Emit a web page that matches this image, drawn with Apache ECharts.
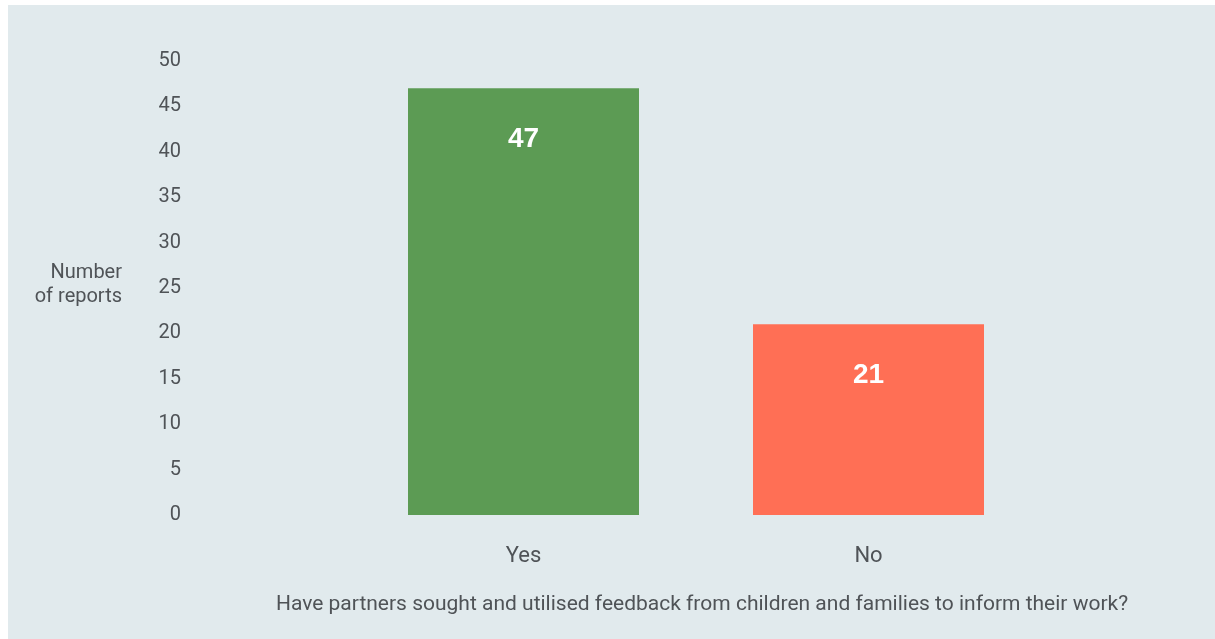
<!DOCTYPE html>
<html>
<head>
<meta charset="utf-8">
<script src="https://cdn.jsdelivr.net/npm/echarts@6/dist/echarts.min.js"></script>
<style>
  html, body { margin: 0; padding: 0; background: #ffffff; }
  #panel { position: absolute; left: 8px; top: 5px; right: 0; bottom: 0; background: #e1eaed; }
  #chart { position: absolute; left: -8px; top: -5px; width: 1215px; height: 639px; }
</style>
</head>
<body>
<div id="panel"><div id="chart"></div></div>
<script>
// Survey answers and counts
const categories = ['Yes', 'No'];
const reportCounts = [47, 21];
const barColors = ['#5c9b54', '#ff6f55'];
const yTicks = { min: 0, max: 50, step: 5 };
const yTitle = 'Number\nof reports';
const xTitle = 'Have partners sought and utilised feedback from children and families to inform their work?';

const textColor = '#4f5357';
const fontFamily = 'Roboto, "Liberation Sans", Arial, sans-serif';

const chart = echarts.init(document.getElementById('chart'), null, { renderer: 'canvas' });

chart.setOption({
  backgroundColor: 'transparent',
  animation: false,
  textStyle: { fontFamily: fontFamily },
  grid: { left: 351, width: 690, top: 61, bottom: 124, containLabel: false },
  xAxis: {
    type: 'category',
    data: categories,
    axisLine: { show: false },
    axisTick: { show: false },
    axisLabel: { color: textColor, fontSize: 22, margin: 30, fontFamily: fontFamily },
    name: xTitle,
    nameLocation: 'middle',
    nameGap: 79,
    nameTextStyle: { color: textColor, fontSize: 21, fontFamily: fontFamily, padding: [0, 0, 0, 12] }
  },
  yAxis: {
    type: 'value',
    min: yTicks.min,
    max: yTicks.max,
    interval: yTicks.step,
    axisLine: { show: false },
    axisTick: { show: false },
    splitLine: { show: false },
    axisLabel: { color: textColor, fontSize: 20, margin: 170, fontFamily: fontFamily, padding: [3, 0, 0, 0] }
  },
  graphic: [{
    type: 'text',
    right: 1215 - 122,
    top: 261,
    style: {
      text: yTitle,
      fill: textColor,
      font: '20px ' + fontFamily,
      textAlign: 'right',
      lineHeight: 24
    }
  }],
  series: [{
    type: 'bar',
    barWidth: 231,
    data: reportCounts.map((v, i) => ({ value: v, itemStyle: { color: barColors[i] } })),
    label: {
      show: true,
      position: 'insideTop',
      distance: 37,
      color: '#ffffff',
      fontSize: 28,
      fontWeight: 'bold',
      fontFamily: '"Liberation Sans", Arial, sans-serif'
    }
  }]
});
</script>
</body>
</html>
